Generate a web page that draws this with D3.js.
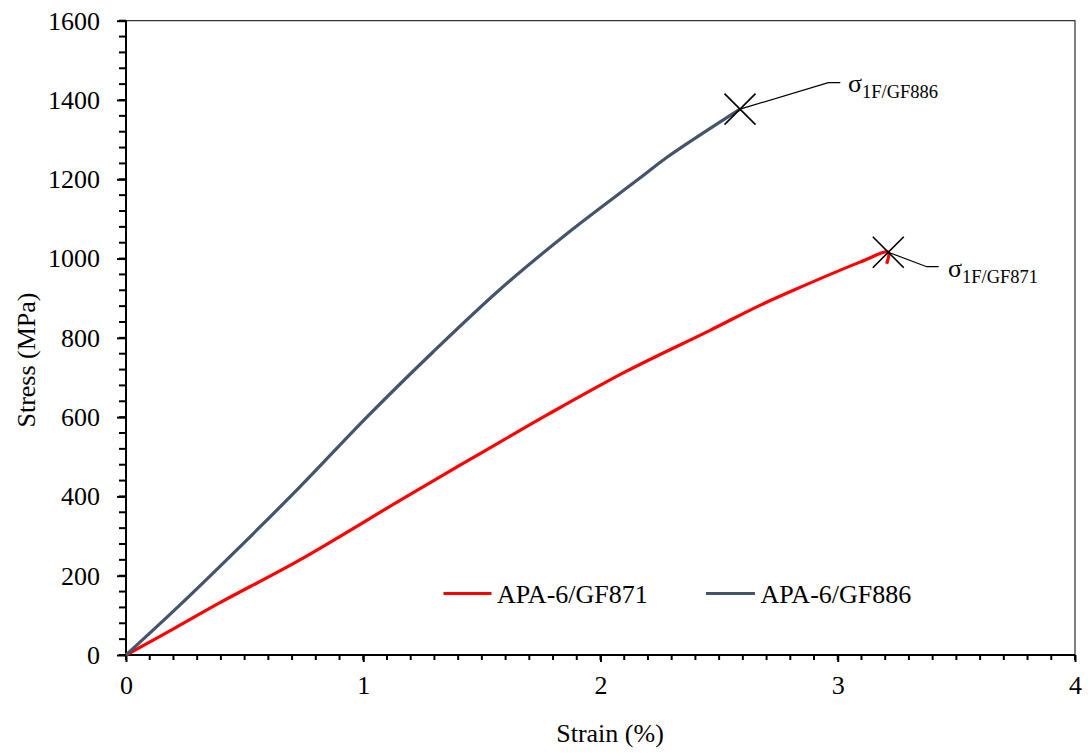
<!DOCTYPE html>
<html><head><meta charset="utf-8">
<script src="https://cdn.jsdelivr.net/npm/d3@7"></script>
<style>body{margin:0;background:#fff}svg{display:block}text{font-family:"Liberation Serif","Times New Roman",serif;fill:#000}</style>
</head><body><svg id="c" width="1088" height="754"></svg>
<script>
const seriesNames = ["APA-6/GF871", "APA-6/GF886"];
const strainGF871 = [0, 0.2, 0.396, 0.733, 1.155, 1.408, 1.576, 1.773, 2.11, 2.462, 2.672, 2.813, 3.094, 3.213, 3.206];
const stressGF871 = [0, 66, 132, 240, 390, 479, 537, 605, 716, 819, 882, 920, 991, 1016, 987];
const strainGF886 = [0, 0.22, 0.424, 0.733, 1.015, 1.295, 1.576, 1.857, 2.166, 2.279, 2.588];
const stressGF886 = [0, 122, 240, 424, 600, 765, 922, 1062, 1203, 1255, 1377];
const xTicks = [0, 1, 2, 3, 4];
const yTicks = [0, 200, 400, 600, 800, 1000, 1200, 1400, 1600];
const failureLabels = ["1F/GF871", "1F/GF886"];

const svg = d3.select("#c");
const L = 126, R = 1075, T = 20.7, B = 655;
const x = d3.scaleLinear().domain([0, 4]).range([L, R]);
const y = d3.scaleLinear().domain([0, 1600]).range([B, T]);

// frame (thin)
svg.append("rect").attr("x", L).attr("y", T).attr("width", R - L).attr("height", B - T)
  .attr("fill", "none").attr("stroke", "#000").attr("stroke-width", 1);

// minor ticks
const yMinor = d3.range(0, 1601, 40);
svg.append("g").selectAll("line").data(yMinor).join("line")
  .attr("x1", L - 7).attr("x2", L).attr("y1", d => y(d)).attr("y2", d => y(d))
  .attr("stroke", "#000").attr("stroke-width", 2);
const xMinor = d3.range(0, 41).map(i => i / 10);
svg.append("g").selectAll("line").data(xMinor).join("line")
  .attr("y1", B).attr("y2", B + 5).attr("x1", d => x(d)).attr("x2", d => x(d))
  .attr("stroke", "#000").attr("stroke-width", 2);

// axes
const yAxis = svg.append("g").attr("transform", `translate(${L},0)`)
  .call(d3.axisLeft(y).tickValues(yTicks).tickFormat(d3.format("d")).tickSize(9).tickPadding(17));
const xAxis = svg.append("g").attr("transform", `translate(0,${B})`)
  .call(d3.axisBottom(x).tickValues(xTicks).tickFormat(d3.format("d")).tickSize(7).tickPadding(14));
[yAxis, xAxis].forEach(g => {
  g.select(".domain").attr("stroke", "#000").attr("stroke-width", 2);
  g.selectAll(".tick line").attr("stroke", "#000").attr("stroke-width", 2);
  g.selectAll(".tick text").style("font-family", '"Liberation Serif",serif').style("font-size", "26px").attr("fill", "#000");
});
yAxis.select(".domain").attr("d", `M0,${B}V${T}`);
xAxis.select(".domain").attr("d", `M${L},0H${R}`);

// titles
svg.append("text").attr("x", 610).attr("y", 742).attr("text-anchor", "middle")
  .style("font-size", "26px").text("Strain (%)");
svg.append("text").attr("transform", "translate(35,360) rotate(-90)").attr("text-anchor", "middle")
  .style("font-size", "26px").text("Stress (MPa)");

// lines
const colors = ["#FF0000", "#44546A"];
const data = [
  strainGF871.map((s, i) => [s, stressGF871[i]]),
  strainGF886.map((s, i) => [s, stressGF886[i]])
];
const line = d3.line().x(d => x(d[0])).y(d => y(d[1])).curve(d3.curveCatmullRom.alpha(0.5));
data.forEach((d, i) => {
  svg.append("path").datum(d).attr("d", line).attr("fill", "none")
    .attr("stroke", colors[i]).attr("stroke-width", 3.2).attr("stroke-linejoin", "round");
});

// failure markers
const fails = [
  {pt: [3.213, 1016], lx: 926.7, ly: 266.7, tx: 948, ty: 277, label: failureLabels[0]},
  {pt: [2.588, 1377], lx: 828.3, ly: 82.7, tx: 848, ty: 92, label: failureLabels[1]}
];
fails.forEach(f => {
  const cx = x(f.pt[0]), cy = y(f.pt[1]), s = 15.5;
  svg.append("path").attr("d", `M${cx - s},${cy - s}L${cx + s},${cy + s}M${cx - s},${cy + s}L${cx + s},${cy - s}`)
    .attr("stroke", "#000").attr("stroke-width", 1.6).attr("fill", "none");
  svg.append("path").attr("d", `M${cx},${cy}L${f.lx},${f.ly}H${f.lx + 12}`)
    .attr("stroke", "#000").attr("stroke-width", 1.2).attr("fill", "none");
  const t = svg.append("text").attr("x", f.tx).attr("y", f.ty).style("font-size", "26px");
  t.append("tspan").text("σ");
  t.append("tspan").attr("dy", 6).style("font-size", "18.5px").text(f.label);
});

// legend
const leg = [{x1: 443.5, x2: 491.5, tx: 497}, {x1: 706, x2: 755, tx: 760.5}];
leg.forEach((l, i) => {
  svg.append("line").attr("x1", l.x1).attr("x2", l.x2).attr("y1", 593.5).attr("y2", 593.5)
    .attr("stroke", colors[i]).attr("stroke-width", 3);
  svg.append("text").attr("x", l.tx).attr("y", 603).style("font-size", "26px").text(seriesNames[i]);
});
</script></body></html>
